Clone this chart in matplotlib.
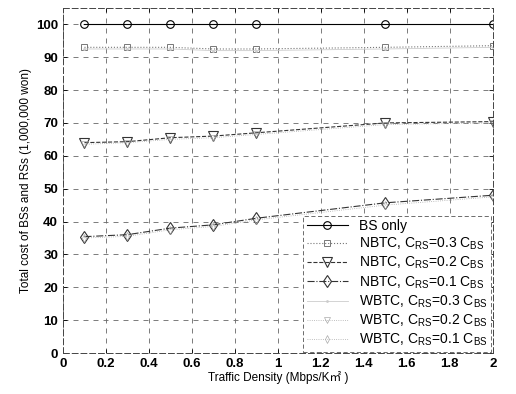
import matplotlib
matplotlib.use("Agg")
import matplotlib.pyplot as plt

plt.rcParams['font.family'] = ['Liberation Sans', 'Noto Sans CJK KR', 'DejaVu Sans']
plt.rcParams['mathtext.default'] = 'regular'

# traffic density (Mbps/km^2)
density = [0.1, 0.3, 0.5, 0.7, 0.9, 1.5, 2.0]

# total cost (1,000,000 won)
bs_only = [100, 100, 100, 100, 100, 100, 100]
nbtc_03 = [93, 93, 93, 92.5, 92.5, 93, 93.5]
nbtc_02 = [64, 64.3, 65.5, 66, 67, 70, 70.4]
nbtc_01 = [35.4, 36, 38, 39, 41, 45.7, 48]
wbtc_03 = [92.5, 92.5, 92.5, 92, 92, 92.5, 93]
wbtc_02 = [63.5, 64, 65, 65.5, 66.5, 69.5, 70]
wbtc_01 = [35, 35.5, 37.5, 38.5, 40.5, 45, 47.5]

labels = ['BS only',
          'NBTC, C$_{RS}$=0.3 C$_{BS}$',
          'NBTC, C$_{RS}$=0.2 C$_{BS}$',
          'NBTC, C$_{RS}$=0.1 C$_{BS}$',
          'WBTC, C$_{RS}$=0.3 C$_{BS}$',
          'WBTC, C$_{RS}$=0.2 C$_{BS}$',
          'WBTC, C$_{RS}$=0.1 C$_{BS}$']

fig = plt.figure(figsize=(5.16, 3.94), dpi=100)
ax = fig.add_axes([0.122, 0.104, 0.833, 0.876])

ax.plot(density, bs_only, '-o', color='black', lw=0.8, ms=5.5, mfc='none', mew=0.8, label=labels[0])
ax.plot(density, nbtc_03, ':s', color='#777777', lw=0.8, ms=4.5, mfc='none', mew=0.7, label=labels[1])
ax.plot(density, nbtc_02, '--v', color='#333333', lw=0.8, ms=6.5, mfc='none', mew=0.8, label=labels[2])
ax.plot(density, nbtc_01, '-.d', color='#333333', lw=0.8, ms=6.5, mfc='none', mew=0.8, label=labels[3])
ax.plot(density, wbtc_03, '-', color='#cccccc', lw=0.6, marker='.', ms=2, label=labels[4])
ax.plot(density, wbtc_02, ':', color='#aaaaaa', lw=0.6, marker='v', ms=4, mfc='none', mew=0.5, label=labels[5])
ax.plot(density, wbtc_01, ':', color='#aaaaaa', lw=0.6, marker='d', ms=4, mfc='none', mew=0.5, label=labels[6])

ax.set_xlim(0, 2)
ax.set_ylim(0, 105)
ax.set_xticks([0, 0.2, 0.4, 0.6, 0.8, 1, 1.2, 1.4, 1.6, 1.8, 2])
ax.set_xticklabels(['0', '0.2', '0.4', '0.6', '0.8', '1', '1.2', '1.4', '1.6', '1.8', '2'])
ax.set_yticks(range(0, 101, 10))
ax.tick_params(direction='in', length=3, labelsize=9.5, top=True, right=True, width=0.6)
for lab in ax.get_xticklabels() + ax.get_yticklabels():
    lab.set_fontweight('bold')
ax.grid(True, linestyle=(0, (6, 6)), color='#666666', lw=0.6)
for s in ax.spines.values():
    s.set_linestyle((0, (6, 3)))
    s.set_color('#444444')
    s.set_linewidth(0.7)

ax.set_xlabel('Traffic Density (Mbps/K\u33a1 )', fontsize=8.5, labelpad=1)
ax.set_ylabel('Total cost of BSs and RSs (1,000,000 won)', fontsize=8.5, labelpad=3)

leg = ax.legend(loc='lower right', fontsize=10, handlelength=3.0, labelspacing=0.2,
                borderaxespad=0.1, borderpad=0.25, frameon=True, fancybox=False,
                framealpha=1, edgecolor='#555555')
leg.get_frame().set_linestyle((0, (5, 3)))
leg.get_frame().set_linewidth(0.6)

fig.savefig('out.png', dpi=100)
